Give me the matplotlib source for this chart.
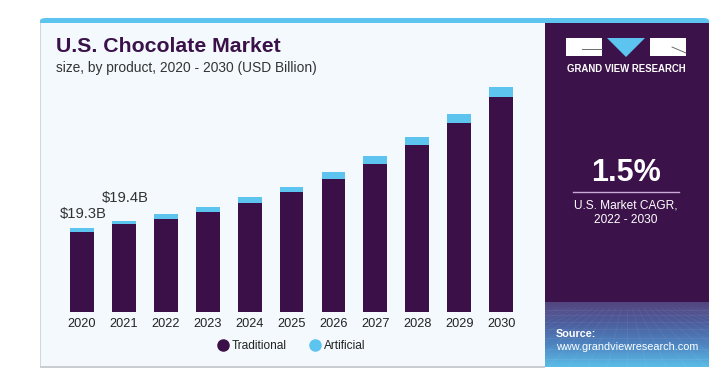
import numpy as np
import matplotlib.pyplot as plt
from matplotlib.patches import Rectangle, Polygon, FancyBboxPatch
from matplotlib.colors import LinearSegmentedColormap
from matplotlib.lines import Line2D

plt.rcParams["font.family"] = ["Liberation Sans", "DejaVu Sans"]

years = ["2020", "2021", "2022", "2023", "2024", "2025", "2026", "2027", "2028", "2029", "2030"]
traditional = [18.5, 20.2, 21.5, 23.0, 25.1, 27.6, 30.7, 34.2, 38.5, 43.6, 49.5]
artificial = [0.8, 0.85, 1.0, 1.15, 1.3, 1.3, 1.45, 1.8, 1.8, 2.0, 2.3]
labels = {0: "$19.3B", 1: "$19.4B"}

W, H = 719, 374
dark = "#3b1048"
blue = "#5cc4ef"
card_bg = "#f3f9fc"

fig = plt.figure(figsize=(W / 100, H / 100), dpi=100)
fig.patch.set_facecolor("white")


def fx(x):
    return x / W


def fy(y):
    return 1 - y / H


def rect(x0, y0, x1, y1, **kw):
    fig.patches.append(Rectangle((fx(x0), fy(y1)), fx(x1 - x0), (y1 - y0) / H,
                                 transform=fig.transFigure, **kw))


# card
fig.patches.append(FancyBboxPatch((fx(40), fy(366)), fx(669), 348 / H,
                                  boxstyle="round,pad=0,rounding_size=0.008",
                                  transform=fig.transFigure, facecolor=blue,
                                  edgecolor="none", zorder=0))
rect(40, 23, 709, 366, facecolor=card_bg, edgecolor="none", zorder=0.5)
rect(40, 366, 545, 367.5, facecolor="#c9cdd2", edgecolor="none", zorder=0.6)
rect(40, 23, 41.2, 366, facecolor="#cfd6dc", edgecolor="none", zorder=0.6)

# right panel
rect(545, 23, 709, 302, facecolor="#3b1249", edgecolor="none", zorder=1)

grad_ax = fig.add_axes([fx(545), fy(367), fx(164), 65 / H], zorder=1)
cmap = LinearSegmentedColormap.from_list("g", ["#54457f", "#4c5f9f", "#4e86c2", "#5bbce6"])
grad_ax.imshow(np.linspace(0, 1, 100)[:, None], aspect="auto", cmap=cmap, extent=[0, 1, 1, 0])
for i in range(-12, 22):
    grad_ax.plot([0.5 + i * 0.035, 0.5 + i * 0.12], [0.1, 1.0], color="white", alpha=0.07, lw=0.5)
for j in [0.12, 0.2, 0.3, 0.42, 0.56, 0.72, 0.88]:
    grad_ax.plot([0, 1], [j, j], color="white", alpha=0.08, lw=0.5)
grad_ax.set_xlim(0, 1)
grad_ax.set_ylim(1, 0)
grad_ax.axis("off")

# logo
rect(566, 38, 602, 56, facecolor="white", edgecolor="none", zorder=2)
rect(650, 38, 686, 56, facecolor="white", edgecolor="none", zorder=2)
fig.patches.append(Polygon([[fx(607), fy(38)], [fx(645), fy(38)], [fx(626), fy(57)]],
                           closed=True, transform=fig.transFigure, facecolor=blue,
                           edgecolor="none", zorder=2))
fig.lines.append(Line2D([fx(582), fx(602)], [fy(49), fy(49)], transform=fig.transFigure,
                        color="#555", lw=0.6, zorder=3))
fig.lines.append(Line2D([fx(672), fx(686)], [fy(47), fy(53)], transform=fig.transFigure,
                        color="#555", lw=0.6, zorder=3))
fig.text(fx(626), fy(69), "GRAND VIEW RESEARCH", color="white", fontsize=6.9,
         fontweight="bold", ha="center", va="center", zorder=3)

fig.text(fx(626), fy(173), "1.5%", color="white", fontsize=22, fontweight="bold",
         ha="center", va="center", zorder=3)
fig.lines.append(Line2D([fx(573), fx(679)], [fy(192), fy(192)], transform=fig.transFigure,
                        color="#c9a9d6", lw=1, zorder=3))
fig.text(fx(626), fy(205), "U.S. Market CAGR,", color="white", fontsize=8.6,
         ha="center", va="center", zorder=3)
fig.text(fx(626), fy(220), "2022 - 2030", color="white", fontsize=8.6,
         ha="center", va="center", zorder=3)
fig.text(fx(556), fy(334), "Source:", color="white", fontsize=7.8, fontweight="bold",
         ha="left", va="center", zorder=3)
fig.text(fx(556), fy(347), "www.grandviewresearch.com", color="white", fontsize=7.8,
         ha="left", va="center", zorder=3)

# titles
fig.text(fx(56), fy(47), "U.S. Chocolate Market", color="#3a1249", fontsize=15.3,
         fontweight="heavy", ha="left", va="center")
fig.text(fx(56), fy(68), "size, by product, 2020 - 2030 (USD Billion)", color="#333333",
         fontsize=9.9, ha="left", va="center")

# bars
ax = fig.add_axes([fx(50), fy(312), fx(480), 230 / H], zorder=2)
ax.patch.set_alpha(0)
x = np.arange(len(years))
ax.bar(x, traditional, width=0.57, color=dark, label="Traditional")
ax.bar(x, artificial, width=0.57, bottom=traditional, color=blue, label="Artificial")
for i, t in labels.items():
    tot = traditional[i] + artificial[i]
    ax.annotate(t, (x[i], tot), xytext=(0.8 if i == 0 else 1, 5 if i == 0 else 11),
                textcoords="offset points", fontsize=10.6, color="#333333",
                ha="center", va="bottom")
ax.set_xlim(-0.764, 10.69)
ax.set_ylim(0, 53.0)
ax.set_xticks(x, years)
ax.tick_params(axis="x", length=0, pad=4, labelsize=9.2, labelcolor="#222222")
ax.set_yticks([])
for s in ax.spines.values():
    s.set_visible(False)

h = [Line2D([], [], marker="o", ls="", color=dark, markersize=8),
     Line2D([], [], marker="o", ls="", color=blue, markersize=8)]
fig.legend(handles=h, labels=["Traditional", "Artificial"], loc="center",
           bbox_to_anchor=(fx(292), fy(346)), ncol=2, frameon=False, fontsize=8.6,
           handlelength=0.8, columnspacing=2.0, handletextpad=0.3, labelcolor="#222222")

fig.savefig("out.png", dpi=100, facecolor="white")
